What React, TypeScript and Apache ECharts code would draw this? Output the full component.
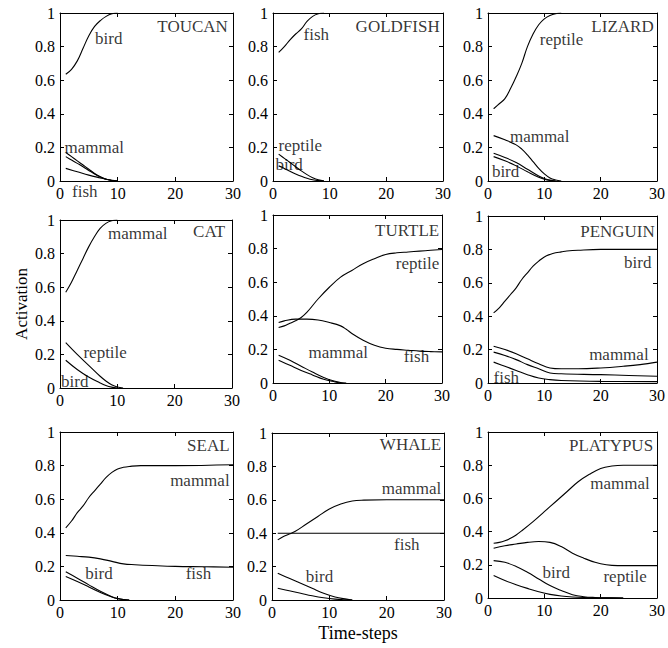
import React, { useEffect, useRef } from "react";
import * as echarts from "echarts";

// ---------- data (time-step, activation) ----------
const TOUCAN_BIRD = [[1,0.635],[2,0.665],[3,0.715],[4,0.79],[5,0.865],[6,0.92],[7,0.955],[8,0.98],[9,0.995],[10,1]];
const TOUCAN_MAMMAL = [[1,0.17],[2,0.145],[3,0.12],[4,0.095],[5,0.07],[6,0.045],[7,0.025],[8,0.01],[9,0.003],[10,0]];
const TOUCAN_REPTILE = [[1,0.145],[2,0.125],[3,0.105],[4,0.085],[5,0.063],[6,0.042],[7,0.024],[8,0.01],[9,0.003],[10,0]];
const TOUCAN_FISH = [[1,0.075],[3,0.055],[5,0.035],[7,0.018],[8,0.01],[9,0.004],[10,0]];

const GOLDFISH_FISH = [[1,0.765],[2,0.8],[3,0.84],[4,0.875],[5,0.905],[6,0.95],[7,0.98],[8,0.995],[9,1]];
const GOLDFISH_REPTILE = [[1,0.16],[2,0.135],[3,0.11],[4,0.085],[5,0.06],[6,0.038],[7,0.02],[8,0.007],[9,0]];
const GOLDFISH_BIRD = [[1,0.09],[2,0.075],[3,0.058],[4,0.042],[5,0.028],[6,0.016],[7,0.007],[8,0.002],[9,0]];

const LIZARD_REPTILE = [[1,0.43],[2,0.46],[3,0.49],[4,0.55],[5,0.62],[6,0.7],[7,0.8],[8,0.875],[9,0.93],[10,0.965],[11,0.985],[12,0.996],[13,1]];
const LIZARD_MAMMAL = [[1,0.27],[3,0.245],[5,0.215],[6,0.19],[7,0.155],[8,0.115],[9,0.075],[10,0.042],[11,0.018],[12,0.006],[13,0]];
const LIZARD_BIRD = [[1,0.165],[3,0.14],[5,0.11],[7,0.07],[9,0.03],[10,0.015],[11,0.005],[12,0]];
const LIZARD_FISH = [[1,0.145],[3,0.12],[5,0.09],[7,0.055],[9,0.022],[10,0.01],[11,0.003],[12,0]];

const CAT_MAMMAL = [[1,0.57],[2,0.63],[3,0.7],[4,0.77],[5,0.84],[6,0.9],[7,0.95],[8,0.98],[9,0.995],[10,1]];
const CAT_REPTILE = [[1,0.27],[3,0.2],[5,0.135],[7,0.07],[8,0.042],[9,0.02],[10,0.006],[11,0]];
const CAT_BIRD = [[1,0.165],[3,0.11],[5,0.065],[7,0.03],[8,0.015],[9,0.005],[10,0]];

const TURTLE_REPTILE = [[1,0.33],[2,0.34],[3,0.355],[4,0.37],[5,0.39],[6,0.42],[8,0.5],[10,0.57],[12,0.63],[14,0.67],[16,0.71],[18,0.74],[20,0.765],[22,0.775],[24,0.78],[26,0.785],[28,0.79],[30,0.795]];
const TURTLE_FISH = [[1,0.36],[2,0.37],[4,0.38],[6,0.38],[8,0.375],[10,0.36],[12,0.34],[13,0.32],[14,0.295],[16,0.255],[18,0.225],[20,0.207],[22,0.2],[24,0.195],[26,0.19],[28,0.187],[30,0.185]];
const TURTLE_MAMMAL = [[1,0.165],[3,0.135],[5,0.1],[7,0.065],[9,0.033],[11,0.01],[12,0.003],[13,0]];
const TURTLE_BIRD = [[1,0.135],[3,0.105],[5,0.075],[7,0.048],[9,0.022],[11,0.006],[12,0]];

const PENGUIN_BIRD = [[1,0.42],[2,0.45],[3,0.49],[4,0.53],[5,0.57],[6,0.62],[7,0.66],[8,0.7],[9,0.73],[10,0.755],[11,0.77],[12,0.78],[13,0.785],[14,0.79],[16,0.795],[20,0.8],[30,0.8]];
const PENGUIN_MAMMAL = [[1,0.22],[3,0.2],[5,0.175],[7,0.145],[9,0.115],[11,0.09],[13,0.085],[16,0.085],[20,0.09],[24,0.1],[27,0.11],[30,0.125]];
const PENGUIN_REPTILE = [[1,0.185],[3,0.165],[5,0.14],[7,0.11],[9,0.085],[11,0.06],[13,0.055],[20,0.05],[25,0.045],[30,0.04]];
const PENGUIN_FISH = [[1,0.125],[3,0.1],[5,0.075],[7,0.05],[9,0.03],[11,0.02],[13,0.015],[20,0.01],[30,0.008]];

const SEAL_MAMMAL = [[1,0.43],[2,0.47],[3,0.52],[4,0.56],[5,0.61],[6,0.65],[7,0.69],[8,0.73],[9,0.76],[10,0.78],[11,0.79],[12,0.795],[14,0.8],[20,0.8],[30,0.805]];
const SEAL_FISH = [[1,0.265],[3,0.26],[5,0.255],[7,0.245],[9,0.23],[11,0.215],[13,0.21],[16,0.205],[20,0.2],[25,0.198],[30,0.195]];
const SEAL_BIRD = [[1,0.168],[3,0.13],[5,0.09],[7,0.052],[9,0.02],[10,0.009],[11,0.003],[12,0]];
const SEAL_REPTILE = [[1,0.14],[3,0.11],[5,0.078],[7,0.045],[9,0.018],[10,0.008],[11,0.002],[12,0]];

const WHALE_MAMMAL = [[1,0.36],[2,0.38],[3,0.395],[4,0.41],[6,0.455],[8,0.5],[10,0.545],[12,0.575],[14,0.593],[16,0.598],[20,0.6],[30,0.6]];
const WHALE_FISH = [[1,0.4],[10,0.4],[20,0.4],[30,0.4]];
const WHALE_BIRD = [[1,0.16],[3,0.13],[5,0.1],[7,0.07],[9,0.04],[11,0.018],[13,0.005],[14,0]];
const WHALE_REPTILE = [[1,0.07],[3,0.055],[5,0.04],[7,0.025],[9,0.013],[11,0.005],[13,0.001],[14,0]];

const PLATYPUS_MAMMAL = [[1,0.33],[2,0.335],[3,0.345],[4,0.36],[5,0.38],[6,0.405],[8,0.46],[10,0.52],[12,0.58],[14,0.64],[16,0.7],[18,0.745],[20,0.78],[22,0.795],[24,0.8],[30,0.8]];
const PLATYPUS_REPTILE = [[1,0.3],[3,0.315],[5,0.325],[7,0.335],[9,0.34],[11,0.335],[13,0.31],[15,0.27],[17,0.24],[19,0.215],[21,0.2],[23,0.195],[30,0.195]];
const PLATYPUS_BIRD = [[1,0.225],[3,0.215],[5,0.19],[7,0.155],[9,0.115],[11,0.075],[13,0.045],[15,0.02],[17,0.008],[19,0.003],[21,0.001],[24,0]];
const PLATYPUS_FISH = [[1,0.135],[3,0.105],[5,0.08],[7,0.058],[9,0.038],[11,0.022],[13,0.012],[15,0.006],[17,0.003],[20,0.001],[24,0]];

// annotations: [time-step, activation, text, anchor side]
const TOUCAN_NOTES = [[29.2,0.92,"TOUCAN","r"],[6,0.85,"bird","l"],[0.7,0.2,"mammal","l"],[2.0,-0.06,"fish","l"]];
const GOLDFISH_NOTES = [[29.5,0.92,"GOLDFISH","r"],[5.3,0.87,"fish","l"],[0.9,0.21,"reptile","l"],[0.35,0.1,"bird","l"]];
const LIZARD_NOTES = [[29.5,0.92,"LIZARD","r"],[9.1,0.84,"reptile","l"],[3.8,0.265,"mammal","l"],[0.6,0.055,"bird","l"]];
const CAT_NOTES = [[28.9,0.93,"CAT","r"],[8.3,0.92,"mammal","l"],[4.0,0.21,"reptile","l"],[0.1,0.04,"bird","l"]];
const TURTLE_NOTES = [[29.6,0.91,"TURTLE","r"],[29.6,0.71,"reptile","r"],[6.2,0.18,"mammal","l"],[23.1,0.16,"fish","l"]];
const PENGUIN_NOTES = [[29.7,0.91,"PENGUIN","r"],[29.1,0.72,"bird","r"],[28.6,0.17,"mammal","r"],[0.9,0.03,"fish","l"]];
const SEAL_NOTES = [[29.5,0.92,"SEAL","r"],[29.5,0.71,"mammal","r"],[4.3,0.155,"bird","l"],[21.7,0.16,"fish","l"]];
const WHALE_NOTES = [[29.6,0.93,"WHALE","r"],[29.6,0.67,"mammal","r"],[21.2,0.33,"fish","l"],[5.8,0.14,"bird","l"]];
const PLATYPUS_NOTES = [[29.4,0.92,"PLATYPUS","r"],[28.8,0.69,"mammal","r"],[9.6,0.155,"bird","l"],[20.4,0.13,"reptile","l"]];

const PANELS = [
  { lines: [TOUCAN_BIRD, TOUCAN_MAMMAL, TOUCAN_REPTILE, TOUCAN_FISH], notes: TOUCAN_NOTES },
  { lines: [GOLDFISH_FISH, GOLDFISH_REPTILE, GOLDFISH_BIRD], notes: GOLDFISH_NOTES },
  { lines: [LIZARD_REPTILE, LIZARD_MAMMAL, LIZARD_BIRD, LIZARD_FISH], notes: LIZARD_NOTES },
  { lines: [CAT_MAMMAL, CAT_REPTILE, CAT_BIRD], notes: CAT_NOTES },
  { lines: [TURTLE_REPTILE, TURTLE_FISH, TURTLE_MAMMAL, TURTLE_BIRD], notes: TURTLE_NOTES },
  { lines: [PENGUIN_BIRD, PENGUIN_MAMMAL, PENGUIN_REPTILE, PENGUIN_FISH], notes: PENGUIN_NOTES },
  { lines: [SEAL_MAMMAL, SEAL_FISH, SEAL_BIRD, SEAL_REPTILE], notes: SEAL_NOTES },
  { lines: [WHALE_MAMMAL, WHALE_FISH, WHALE_BIRD, WHALE_REPTILE], notes: WHALE_NOTES },
  { lines: [PLATYPUS_MAMMAL, PLATYPUS_REPTILE, PLATYPUS_BIRD, PLATYPUS_FISH], notes: PLATYPUS_NOTES },
];

// ---------- layout ----------
const BOXES = [
  { left: 60, top: 13, width: 173, height: 168 },
  { left: 273, top: 13, width: 170, height: 168 },
  { left: 488, top: 13, width: 172, height: 168 },
  { left: 60, top: 220, width: 172, height: 168 },
  { left: 273, top: 215, width: 169, height: 168 },
  { left: 488, top: 216, width: 172, height: 167 },
  { left: 60, top: 432, width: 173, height: 168 },
  { left: 272, top: 433, width: 172, height: 167 },
  { left: 488, top: 432, width: 172, height: 166 },
];

const FONT = "'Liberation Serif', 'Times New Roman', serif";
const BLACK = "#000";

export default function App() {
  const ref = useRef<HTMLDivElement>(null);
  useEffect(() => {
    if (!ref.current) return;
    const chart = echarts.init(ref.current, undefined, { renderer: "svg" });
    const grid: any[] = [];
    const xAxis: any[] = [];
    const yAxis: any[] = [];
    const series: any[] = [];
    const lineAxis = { show: true, onZero: false, lineStyle: { color: BLACK, width: 1 } };
    const tick = { show: true, inside: true, length: 4, lineStyle: { color: BLACK, width: 1 } };
    const lab = { color: BLACK, fontFamily: FONT, fontSize: 16 };
    PANELS.forEach((p, i) => {
      grid.push({ ...BOXES[i], containLabel: false });
      const xb: any = {
        type: "value", gridIndex: i, min: 0, max: 30, interval: 10, position: "bottom",
        axisLine: lineAxis, axisTick: tick, splitLine: { show: false },
        axisLabel: { ...lab, margin: 4 },
      };
      if (i === 7) {
        xb.name = "Time-steps";
        xb.nameLocation = "middle";
        xb.nameGap = 24;
        xb.nameTextStyle = { color: BLACK, fontFamily: FONT, fontSize: 18 };
      }
      xAxis.push(xb);
      xAxis.push({
        type: "value", gridIndex: i, min: 0, max: 30, interval: 10, position: "top",
        axisLine: lineAxis, axisTick: tick, splitLine: { show: false }, axisLabel: { show: false },
      });
      const yl: any = {
        type: "value", gridIndex: i, min: 0, max: 1, interval: 0.2, position: "left",
        axisLine: lineAxis, axisTick: tick, splitLine: { show: false },
        axisLabel: { ...lab, margin: 5 },
      };
      if (i === 3) {
        yl.name = "Activation";
        yl.nameLocation = "middle";
        yl.nameGap = 30;
        yl.nameRotate = 90;
        yl.nameTextStyle = { color: BLACK, fontFamily: FONT, fontSize: 17 };
      }
      yAxis.push(yl);
      yAxis.push({
        type: "value", gridIndex: i, min: 0, max: 1, interval: 0.2, position: "right",
        axisLine: lineAxis, axisTick: tick, splitLine: { show: false }, axisLabel: { show: false },
      });
      p.lines.forEach((d) => {
        series.push({
          type: "line", xAxisIndex: 2 * i, yAxisIndex: 2 * i, data: d,
          symbol: "none", showSymbol: false, smooth: 0.4,
          lineStyle: { color: BLACK, width: 1.1 }, silent: true, z: 3,
        });
      });
      series.push({
        type: "scatter", xAxisIndex: 2 * i, yAxisIndex: 2 * i, clip: false, silent: true,
        symbolSize: 1, itemStyle: { color: "rgba(0,0,0,0)" }, z: 4,
        data: p.notes.map((n: any) => ({
          value: [n[0], n[1]],
          label: {
            show: true, formatter: n[2], position: n[3] === "r" ? "left" : "right", distance: 0,
            color: BLACK, fontFamily: FONT, fontSize: 17, lineHeight: 15,
          },
        })),
      });
    });
    chart.setOption({
      animation: false,
      backgroundColor: "#fff",
      grid, xAxis, yAxis, series,
    });
    return () => chart.dispose();
  }, []);
  return (
    <div
      ref={ref}
      style={{ position: "absolute", left: 0, top: 0, width: 668, height: 648, background: "#fff" }}
    />
  );
}
